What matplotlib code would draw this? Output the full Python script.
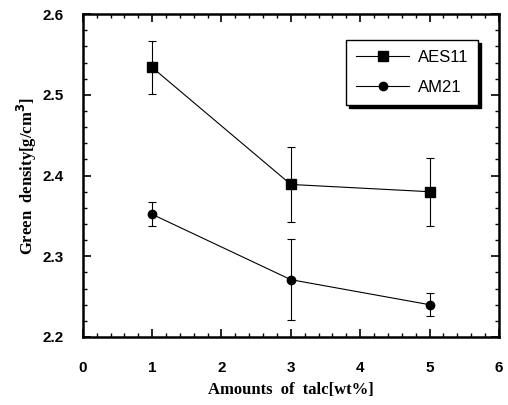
import matplotlib
matplotlib.use("Agg")
import matplotlib.pyplot as plt
from matplotlib.lines import Line2D
import numpy as np

# talc amount (wt%)
talc = [1, 3, 5]

aes11 = [2.534, 2.389, 2.380]
aes11_err = [0.033, 0.047, 0.042]

am21 = [2.352, 2.271, 2.240]
am21_err = [0.015, 0.050, 0.014]

fig = plt.figure(figsize=(5.08, 4.05), dpi=100)
ax = fig.add_axes([0.163, 0.168, 0.819, 0.797])

ax.errorbar(talc, aes11, yerr=aes11_err, color='black', marker='s', ms=7,
            lw=0.8, elinewidth=0.8, capsize=3, capthick=0.8)
ax.errorbar(talc, am21, yerr=am21_err, color='black', marker='o', ms=6,
            lw=0.8, elinewidth=0.8, capsize=3, capthick=0.8)

ax.set_xlim(0, 6)
ax.set_ylim(2.2, 2.6)
ax.set_xticks(np.arange(0, 7, 1))
ax.set_xticks(np.arange(0, 6.01, 0.2), minor=True)
ax.set_yticks(np.arange(2.2, 2.61, 0.1))
ax.set_yticks(np.arange(2.2, 2.601, 0.02), minor=True)
ax.set_yticklabels(['2.2', '2.3', '2.4', '2.5', '2.6'])

ax.tick_params(which='both', direction='in', top=True, right=True)
ax.tick_params(which='major', length=6, width=1.2, labelsize=11)
ax.tick_params(axis='x', which='major', pad=17)
ax.tick_params(axis='y', which='major', pad=14)
ax.tick_params(which='minor', length=3, width=1.0)
for lab in ax.get_xticklabels() + ax.get_yticklabels():
    lab.set_fontweight('bold')
    lab.set_family('Liberation Sans')
for sp in ax.spines.values():
    sp.set_linewidth(1.8)

ax.set_xlabel('Amounts  of  talc[wt%]', fontsize=12, fontweight='bold',
              family='Liberation Serif', labelpad=5)
ax.set_ylabel(r'Green  density[g/cm$^\mathbf{3}$]', fontsize=12, fontweight='bold',
              family='Liberation Serif', labelpad=2)

handles = [Line2D([], [], color='black', marker='s', ms=7, lw=0.8),
           Line2D([], [], color='black', marker='o', ms=6, lw=0.8)]
leg = ax.legend(handles, ['AES11', 'AM21'], loc='upper right',
                bbox_to_anchor=(0.97, 0.945), fancybox=False,
                shadow={'color': 'black', 'alpha': 1.0}, edgecolor='black',
                handlelength=3.2, borderpad=0.6, labelspacing=0.9,
                handletextpad=0.5,
                prop={'family': 'Liberation Sans', 'size': 12})
leg.get_frame().set_linewidth(1.0)

fig.savefig('out.png', dpi=100)
